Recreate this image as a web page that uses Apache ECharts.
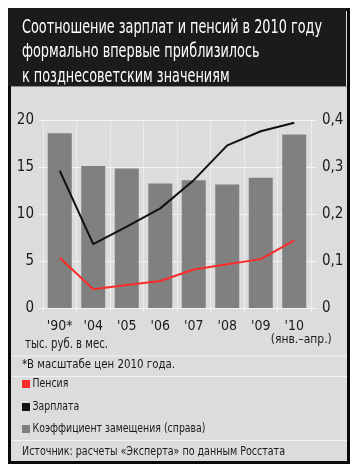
<!DOCTYPE html>
<html><head><meta charset="utf-8">
<script src="https://cdn.jsdelivr.net/npm/echarts@6/dist/echarts.min.js"></script>
<style>html,body{margin:0;padding:0;background:#fff}#c{width:360px;height:476px}</style>
</head><body><div id="c"></div>
<script>
// ---- data ----
const categories = ["'90*", "'04", "'05", "'06", "'07", "'08", "'09", "'10"];
const pension = [5.35, 2.0, 2.45, 2.87, 4.1, 4.65, 5.2, 7.2];
const salary = [14.6, 6.8, 8.65, 10.6, 13.6, 17.3, 18.8, 19.7];
const replacement = [0.372, 0.302, 0.297, 0.265, 0.272, 0.263, 0.277, 0.369];
const leftTicks = [0, 5, 10, 15, 20];
const rightTicks = [0, 0.1, 0.2, 0.3, 0.4];
const seriesNames = ['Пенсия', 'Зарплата', 'Коэффициент замещения (справа)'];
const seriesColors = ['#ff2b2b', '#111111', '#808080'];
const titleLines = ['Соотношение зарплат и пенсий в 2010 году', 'формально впервые приблизилось', 'к позднесоветским значениям'];
const lastNote = '(янв.–апр.)';
const unitText = 'тыс. руб. в мес.';
const footnote = '*В масштабе цен 2010 года.';
const sourceText = 'Источник: расчеты «Эксперта» по данным Росстата';

const FONT = "'Liberation Sans Narrow', 'DejaVu Sans Condensed', 'Roboto', sans-serif";
const ctx = document.createElement('canvas').getContext('2d');
function fit(text, size, target) {
  ctx.font = size + 'px ' + FONT;
  return target / ctx.measureText(text).width;
}
const titleScale = fit(titleLines[0], 19, 300);
const legendScale = fit(seriesNames[2], 13, 173);
const legendY = [384, 407, 429];

const graphics = [
  {type: 'rect', z: -10, silent: true, shape: {x: 9.5, y: 9.5, width: 339, height: 453},
    style: {fill: '#dcdcdc', stroke: '#0a0a0a', lineWidth: 3}},
  {type: 'rect', z: -9, silent: true, shape: {x: 8, y: 8, width: 338, height: 78}, style: {fill: '#1b1b1b'}},
  {type: 'rect', z: -9, silent: true, shape: {x: 11, y: 86, width: 336, height: 1}, style: {fill: '#8a8a8a'}},
  {type: 'rect', z: -9, silent: true, shape: {x: 11, y: 355.5, width: 336, height: 1}, style: {fill: '#f2f2f2'}},
  {type: 'rect', z: -9, silent: true, shape: {x: 11, y: 376, width: 336, height: 1}, style: {fill: '#f2f2f2'}},
  {type: 'rect', z: -9, silent: true, shape: {x: 11, y: 440, width: 336, height: 1}, style: {fill: '#f2f2f2'}},
  {type: 'text', x: 25, y: 344, scaleX: fit(unitText, 14, 83), silent: true,
    style: {text: unitText, fontSize: 14, fontFamily: FONT, fill: '#1a1a1a', verticalAlign: 'middle'}},
  {type: 'text', x: 22, y: 365, scaleX: fit(footnote, 13, 153), silent: true,
    style: {text: footnote, fontSize: 13, fontFamily: FONT, fill: '#1a1a1a', verticalAlign: 'middle'}},
  {type: 'text', x: 22, y: 452, scaleX: fit(sourceText, 13, 263), silent: true,
    style: {text: sourceText, fontSize: 13, fontFamily: FONT, fill: '#1a1a1a', verticalAlign: 'middle'}}
];
titleLines.forEach(function (t, i) {
  graphics.push({type: 'text', x: 22, y: 28 + i * 24.5, scaleX: titleScale, silent: true,
    style: {text: t, fontSize: 19, fontFamily: FONT, fill: '#ffffff', verticalAlign: 'middle'}});
});
seriesNames.forEach(function (n, i) {
  graphics.push({type: 'rect', silent: true, shape: {x: 22, y: legendY[i] - 4, width: 8, height: 8},
    style: {fill: seriesColors[i]}});
  graphics.push({type: 'text', x: 32.5, y: legendY[i], scaleX: legendScale, silent: true,
    style: {text: n, fontSize: 13, fontFamily: FONT, fill: '#1a1a1a', verticalAlign: 'middle'}});
});

const chart = echarts.init(document.getElementById('c'), null, {renderer: 'canvas'});
chart.setOption({
  animation: false,
  backgroundColor: '#ffffff',
  textStyle: {fontFamily: FONT},
  grid: {left: 43, right: 49, top: 120, bottom: 168},
  xAxis: {
    type: 'category', data: categories,
    axisLine: {show: false},
    axisTick: {show: true, interval: 0, length: 5, lineStyle: {color: '#f4f4f4', width: 1}},
    splitLine: {show: true, interval: 0, lineStyle: {color: '#ececec', width: 1}},
    axisLabel: {
      interval: 0, margin: 11, fontSize: 14, color: '#1a1a1a', fontFamily: FONT,
      formatter: function (v, i) { return i === categories.length - 1 ? v + '\n{s|' + lastNote + '}' : v; },
      rich: {s: {fontSize: 12, fontFamily: FONT, color: '#1a1a1a', padding: [0, 0, 0, 14], lineHeight: 13}}
    }
  },
  yAxis: [
    {type: 'value', min: leftTicks[0], max: leftTicks[leftTicks.length - 1], interval: leftTicks[1] - leftTicks[0],
      axisLine: {show: false}, axisTick: {show: true, length: 4, lineStyle: {color: '#f4f4f4'}},
      splitLine: {show: true, lineStyle: {color: '#f4f4f4', width: 1}},
      axisLabel: {margin: 9, fontSize: 15, color: '#1a1a1a', fontFamily: FONT}},
    {type: 'value', min: rightTicks[0], max: rightTicks[rightTicks.length - 1], interval: rightTicks[1] - rightTicks[0],
      axisLine: {show: false}, axisTick: {show: true, length: 6, lineStyle: {color: '#f4f4f4'}},
      splitLine: {show: false},
      axisLabel: {margin: 11, fontSize: 15, color: '#1a1a1a', fontFamily: FONT,
        formatter: function (v) { return v === 0 ? '0' : v.toFixed(1).replace('.', ','); }}}
  ],
  series: [
    {name: seriesNames[2], type: 'bar', yAxisIndex: 1, data: replacement, barWidth: 24,
      itemStyle: {color: seriesColors[2]}, z: 2},
    {name: seriesNames[0], type: 'line', yAxisIndex: 0, data: pension, symbol: 'none',
      lineStyle: {color: seriesColors[0], width: 2}, itemStyle: {color: seriesColors[0]}, z: 3},
    {name: seriesNames[1], type: 'line', yAxisIndex: 0, data: salary, symbol: 'none',
      lineStyle: {color: seriesColors[1], width: 2}, itemStyle: {color: seriesColors[1]}, z: 4}
  ],
  graphic: graphics
});
</script></body></html>
